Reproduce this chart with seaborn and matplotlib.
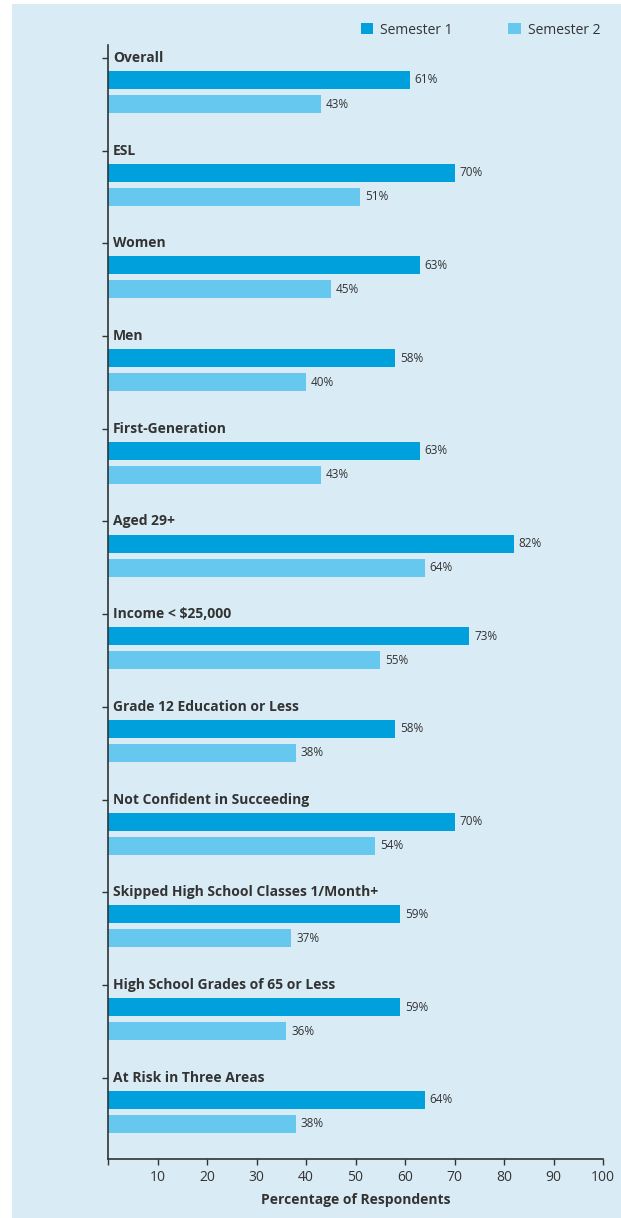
import matplotlib
matplotlib.use("Agg")
import matplotlib.pyplot as plt
import matplotlib.patches as mpatches
import matplotlib.transforms as mtransforms
import seaborn as sns
import pandas as pd

categories = [
    "Overall", "ESL", "Women", "Men", "First-Generation", "Aged 29+",
    "Income < $25,000", "Grade 12 Education or Less",
    "Not Confident in Succeeding", "Skipped High School Classes 1/Month+",
    "High School Grades of 65 or Less", "At Risk in Three Areas",
]
semester1 = [61, 70, 63, 58, 63, 82, 73, 58, 70, 59, 59, 64]
semester2 = [43, 51, 45, 40, 43, 64, 55, 38, 54, 37, 36, 38]
series_names = ["Semester 1", "Semester 2"]
x_ticks = [0, 10, 20, 30, 40, 50, 60, 70, 80, 90, 100]
x_label = "Percentage of Respondents"

BG = "#d9ebf5"
C1 = "#00a0dc"
C2 = "#66c8ee"
TXT = "#333333"

df = pd.DataFrame({
    "category": categories * 2,
    "value": semester1 + semester2,
    "semester": [series_names[0]] * len(categories) + [series_names[1]] * len(categories),
})

sns.set_theme(style="white")
plt.rcParams["font.family"] = ["Open Sans", "DejaVu Sans"]

fig = plt.figure(figsize=(6.21, 12.18), dpi=100)
fig.patch.set_facecolor("white")
fig.patches.append(mpatches.Rectangle((12 / 621, 0), 1 - 12 / 621, 1 - 4 / 1218,
                                      transform=fig.transFigure, facecolor=BG,
                                      edgecolor="none", zorder=-10))

ax = fig.add_axes([108 / 621, 1 - 1159 / 1218, (603 - 108) / 621, (1159 - 45) / 1218])
ax.set_facecolor(BG)

sns.barplot(data=df, y="category", x="value", hue="semester", orient="h",
            palette=[C1, C2], width=0.518, gap=0.25, ax=ax, saturation=1,
            order=categories, hue_order=series_names, linewidth=0, edgecolor="none")

for cont in ax.containers:
    ax.bar_label(cont, fmt="%d%%", padding=3.5, fontsize=8.5, color=TXT)

ax.set_xlim(0, 100)
ax.set_ylim(11.51, -0.507)
ax.set_xticks(x_ticks)
ax.set_xticklabels([("" if t == 0 else str(t)) for t in x_ticks], fontsize=10, color=TXT)
ax.tick_params(axis="x", direction="out", length=4, width=1, color=TXT, pad=4, bottom=True)

label_pos = [i - 0.367 for i in range(len(categories))]
ax.set_yticks(label_pos)
ax.set_yticklabels([""] * len(categories))
ax.tick_params(axis="y", direction="out", length=4, width=1, color=TXT, left=True)

offset = mtransforms.offset_copy(ax.transData, fig=fig, x=5, y=0, units="dots")
for pos, name in zip(label_pos, categories):
    ax.text(0, pos, name, transform=offset, ha="left", va="center",
            fontsize=10, fontweight="bold", color=TXT)

ax.set_ylabel("")
ax.set_xlabel(x_label, fontsize=10, fontweight="bold", color=TXT, labelpad=6)

for s in ["top", "right"]:
    ax.spines[s].set_visible(False)
for s in ["left", "bottom"]:
    ax.spines[s].set_color(TXT)
    ax.spines[s].set_linewidth(1.2)

sns.move_legend(ax, "center left", bbox_to_anchor=(348 / 621, 1 - 30 / 1218),
                bbox_transform=fig.transFigure, ncol=2, frameon=False, title=None,
                fontsize=10, handlelength=0.9, handleheight=0.9, handletextpad=0.5,
                columnspacing=4.0, labelcolor=TXT)

fig.savefig("out.png", dpi=100, facecolor="white")
